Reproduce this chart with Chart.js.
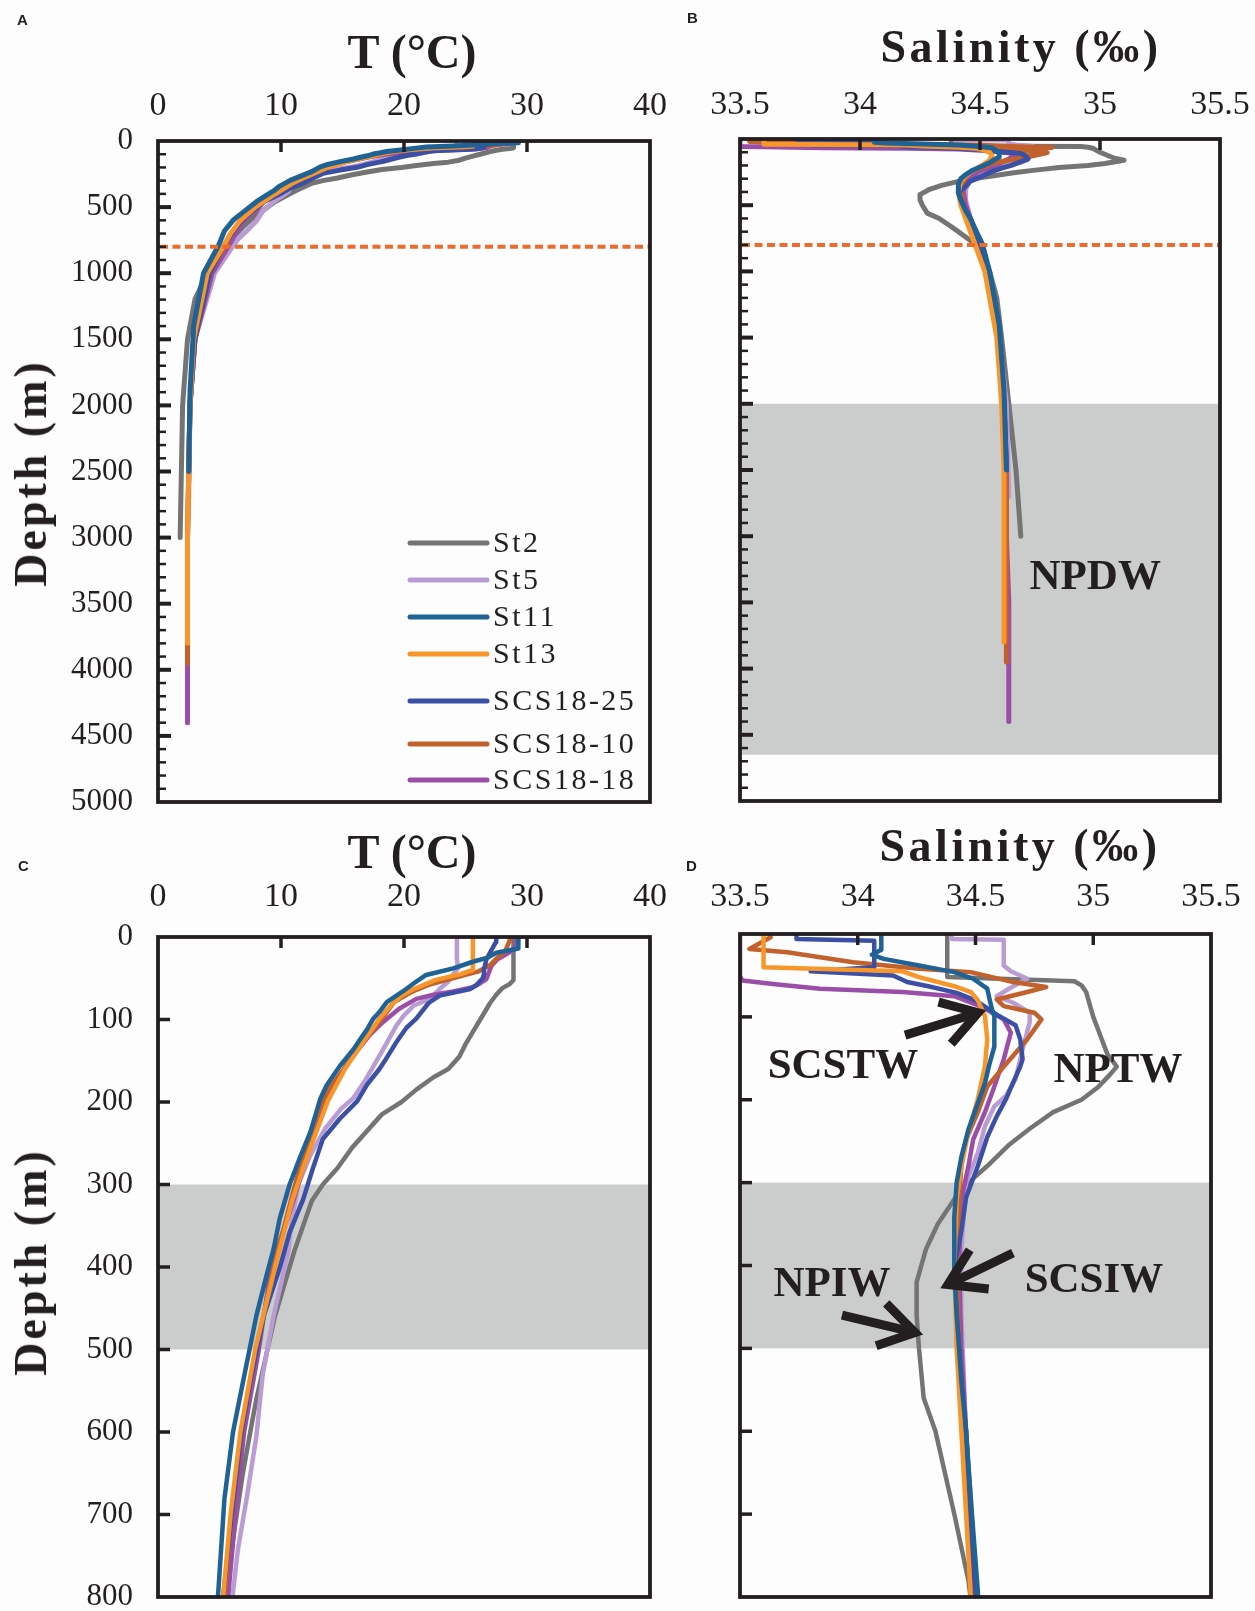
<!DOCTYPE html>
<html>
<head>
<meta charset="utf-8">
<title>Temperature and salinity profiles</title>
<script src="https://cdn.jsdelivr.net/npm/chart.js@4.4.1/dist/chart.umd.min.js"></script>
<style>
  html, body { margin:0; padding:0; background:#fdfdfd; overflow:hidden; }
  #fig { position:relative; width:1255px; height:1611px; overflow:hidden; background:#fdfdfd; color:#231f20; }
  .pane { position:absolute; }
  .pane canvas { display:block; }
  .title { position:absolute; font-family:"Liberation Serif","Times New Roman",serif; font-weight:bold; white-space:nowrap; line-height:1; transform:translate(-50%,-50%); }
  .ttl-t { font-size:48px; }
  .ttl-s { font-size:46px; letter-spacing:3.5px; }
  .ttl-d { font-size:46px; letter-spacing:3px; transform:translate(-50%,-50%) rotate(-90deg); }
  .letter { position:absolute; font-family:"Liberation Sans",Arial,sans-serif; font-weight:bold; font-size:15px; line-height:1; }
</style>
</head>
<body>
<div id="fig">
  <div class="pane" style="left:0;top:0;width:690px;height:860px"><canvas id="cA" width="690" height="860"></canvas></div>
  <div class="pane" style="left:690px;top:0;width:600px;height:860px"><canvas id="cB" width="600" height="860"></canvas></div>
  <div class="pane" style="left:0;top:820px;width:690px;height:840px"><canvas id="cC" width="690" height="840"></canvas></div>
  <div class="pane" style="left:690px;top:820px;width:600px;height:840px"><canvas id="cD" width="600" height="840"></canvas></div>

  <div class="letter" style="left:17px;top:12px">A</div>
  <div class="letter" style="left:687px;top:10px">B</div>
  <div class="letter" style="left:18px;top:858px">C</div>
  <div class="letter" style="left:686px;top:858px">D</div>

  <div class="title ttl-t" style="left:412px;top:52px">T (°C)</div>
  <div class="title ttl-s" style="left:1021px;top:47px">Salinity (‰)</div>
  <div class="title ttl-t" style="left:412px;top:852px">T (°C)</div>
  <div class="title ttl-s" style="left:1020px;top:846px">Salinity (‰)</div>
  <div class="title ttl-d" style="left:31px;top:473px">Depth (m)</div>
  <div class="title ttl-d" style="left:31px;top:1262px">Depth (m)</div>
</div>

<script>
// ---------------- data ----------------
const stationNames = ['St2', 'St5', 'St11', 'St13', 'SCS18-25', 'SCS18-10', 'SCS18-18'];

const depthSt2 = [0, 5, 52, 57, 62, 70, 80, 100, 115, 130, 145, 160, 170, 185, 200, 215, 235, 255, 280, 300, 320, 350, 380, 420, 460, 500, 560, 600, 650, 700, 780, 850, 1000, 1200, 1500, 2000, 2500, 3000];
const tempSt2  = [29.0, 28.9, 28.9, 28.6, 28.0, 27.5, 27.0, 26.2, 25.6, 25.0, 24.5, 23.6, 22.4, 21.0, 19.8, 18.2, 17.0, 15.8, 14.6, 13.4, 12.5, 11.8, 11.1, 10.3, 9.5, 8.9, 8.0, 7.5, 6.9, 6.4, 5.6, 5.0, 4.0, 3.0, 2.4, 2.0, 1.9, 1.8];
const salSt2   = [34.38, 34.38, 34.38, 34.92, 34.95, 34.97, 34.98, 35.00, 35.02, 35.04, 35.06, 35.10, 35.07, 35.02, 34.95, 34.83, 34.73, 34.64, 34.55, 34.47, 34.41, 34.34, 34.29, 34.25, 34.25, 34.26, 34.28, 34.33, 34.37, 34.41, 34.47, 34.50, 34.54, 34.57, 34.59, 34.62, 34.65, 34.67];

const depthSt5 = [0, 6, 7, 26, 38, 45, 54, 63, 75, 83, 95, 107, 139, 175, 195, 208, 232, 264, 300, 341, 381, 459, 532, 605, 681, 742, 794, 1000, 1500, 2000, 2700];
const tempSt5  = [24.3, 24.3, 24.3, 24.3, 24.4, 24.0, 23.6, 22.9, 22.1, 20.8, 20.0, 19.4, 18.2, 16.8, 15.9, 14.9, 13.6, 12.4, 11.4, 10.9, 10.6, 9.4, 8.5, 8.0, 7.2, 6.5, 6.1, 4.6, 3.0, 2.6, 2.5];
const salSt5   = [34.40, 34.40, 34.62, 34.62, 34.62, 34.65, 34.72, 34.66, 34.59, 34.66, 34.73, 34.73, 34.70, 34.67, 34.63, 34.58, 34.54, 34.51, 34.46, 34.45, 34.44, 34.44, 34.45, 34.46, 34.48, 34.49, 34.50, 34.53, 34.58, 34.61, 34.62];

const depthSt11 = [0, 14, 19, 25, 30, 38, 46, 54, 66, 79, 91, 99, 112, 127, 136, 156, 180, 196, 236, 269, 300, 341, 378, 406, 459, 540, 600, 681, 794, 1000, 1400, 1900, 2500];
const tempSt11  = [29.3, 29.3, 27.5, 26.8, 25.6, 24.0, 21.8, 21.0, 19.9, 18.6, 18.0, 17.5, 17.0, 16.3, 15.9, 14.8, 13.7, 13.2, 12.4, 11.5, 10.7, 9.9, 9.4, 8.9, 8.0, 6.9, 6.1, 5.4, 4.9, 3.7, 2.9, 2.6, 2.5];
const salSt11   = [34.10, 34.10, 34.10, 34.06, 34.11, 34.26, 34.41, 34.49, 34.55, 34.56, 34.57, 34.58, 34.58, 34.58, 34.58, 34.56, 34.54, 34.52, 34.47, 34.44, 34.42, 34.41, 34.41, 34.41, 34.42, 34.44, 34.46, 34.48, 34.51, 34.54, 34.58, 34.60, 34.61];

const depthSt13 = [0, 4, 40, 45, 52, 63, 70, 80, 99, 127, 160, 199, 239, 280, 320, 401, 500, 600, 700, 800, 1000, 1500, 2000, 2500, 3000, 3800];
const tempSt13  = [25.6, 25.6, 25.6, 24.6, 22.6, 20.8, 19.9, 19.1, 18.0, 16.7, 15.2, 13.8, 12.8, 11.8, 10.9, 9.5, 7.9, 6.7, 5.9, 5.3, 4.0, 2.9, 2.6, 2.5, 2.4, 2.4];
const salSt13   = [33.60, 33.60, 33.60, 34.19, 34.26, 34.41, 34.48, 34.51, 34.54, 34.55, 34.54, 34.51, 34.47, 34.44, 34.42, 34.41, 34.42, 34.44, 34.46, 34.48, 34.52, 34.57, 34.59, 34.60, 34.60, 34.60];

const depthSCS25 = [0, 6, 8, 27, 40, 45, 50, 58, 63, 71, 80, 99, 110, 127, 151, 160, 179, 199, 220, 245, 280, 318, 358, 401, 459, 540, 600, 700, 800, 1000, 1500, 2000, 2500];
const tempSCS25  = [27.5, 27.5, 27.4, 26.7, 26.5, 26.5, 26.4, 25.9, 25.4, 22.9, 22.0, 21.0, 20.2, 19.4, 18.4, 18.0, 17.0, 16.2, 14.8, 13.4, 12.6, 11.8, 10.7, 9.9, 8.6, 7.5, 6.8, 6.0, 5.3, 4.2, 3.0, 2.6, 2.5];
const salSCS25   = [33.74, 33.74, 34.07, 34.07, 34.07, 33.80, 34.15, 34.21, 34.30, 34.42, 34.50, 34.60, 34.67, 34.69, 34.70, 34.69, 34.66, 34.63, 34.59, 34.55, 34.51, 34.46, 34.44, 34.41, 34.42, 34.44, 34.46, 34.48, 34.50, 34.53, 34.58, 34.60, 34.61];

const depthSCS10 = [0, 4, 18, 22, 34, 42, 46, 58, 64, 70, 79, 87, 95, 103, 127, 147, 160, 184, 215, 248, 280, 320, 401, 500, 600, 700, 800, 1000, 1500, 2000, 2500, 3000, 3950];
const tempSCS10  = [28.6, 28.6, 28.2, 27.8, 27.0, 26.0, 25.0, 22.0, 21.0, 20.2, 19.2, 18.8, 18.4, 18.0, 16.7, 15.7, 15.1, 13.9, 13.0, 12.2, 11.5, 10.8, 9.4, 8.0, 6.8, 6.0, 5.4, 4.2, 3.0, 2.6, 2.5, 2.4, 2.4];
const salSCS10   = [33.63, 33.63, 33.54, 33.70, 33.98, 34.26, 34.48, 34.66, 34.80, 34.72, 34.59, 34.62, 34.75, 34.78, 34.72, 34.66, 34.62, 34.55, 34.51, 34.46, 34.44, 34.43, 34.42, 34.43, 34.45, 34.47, 34.49, 34.53, 34.58, 34.60, 34.61, 34.61, 34.61];

const depthSCS18 = [0, 15, 27, 35, 51, 56, 61, 66, 70, 75, 87, 103, 119, 151, 184, 215, 248, 280, 320, 400, 500, 600, 700, 800, 1000, 1500, 2000, 2500, 3000, 3500, 4000, 4400];
const tempSCS18  = [29.2, 29.0, 27.6, 27.1, 26.7, 26.2, 25.6, 24.0, 22.4, 21.0, 19.6, 18.3, 17.2, 15.5, 14.2, 13.3, 12.4, 11.8, 11.0, 9.2, 8.2, 7.0, 6.3, 5.7, 4.4, 3.0, 2.6, 2.5, 2.4, 2.4, 2.4, 2.4];
const salSCS18   = [33.50, 33.50, 33.50, 33.50, 33.50, 33.51, 33.66, 33.84, 34.19, 34.41, 34.52, 34.62, 34.65, 34.62, 34.58, 34.54, 34.49, 34.47, 34.44, 34.43, 34.44, 34.46, 34.48, 34.50, 34.53, 34.58, 34.60, 34.61, 34.61, 34.62, 34.62, 34.62];

const depths = [depthSt2, depthSt5, depthSt11, depthSt13, depthSCS25, depthSCS10, depthSCS18];
const temps  = [tempSt2, tempSt5, tempSt11, tempSt13, tempSCS25, tempSCS10, tempSCS18];
const sals   = [salSt2, salSt5, salSt11, salSt13, salSCS25, salSCS10, salSCS18];

// water-mass labels and arrows, in data units (salinity, depth)
const waterMassB = [{text: 'NPDW', sal: 34.98, depth: 3316}];
const waterMassD = [
  {text: 'SCSTW', sal: 33.937, depth: 160},
  {text: 'NPTW',  sal: 35.105, depth: 165},
  {text: 'NPIW',  sal: 33.891, depth: 423},
  {text: 'SCSIW', sal: 35.003, depth: 419}
];
const arrowsD = [
  {from: [34.201, 122], to: [34.511, 95]},
  {from: [34.659, 385], to: [34.383, 423]},
  {from: [33.933, 460], to: [34.243, 481]}
];

// ---------------- styling ----------------
const stationColors = ['#747474', '#b99cd4', '#1f6296', '#f7962a', '#3b50a5', '#c2612b', '#9b4ea7'];
const stackOrder = [6, 5, 0, 1, 2, 3, 4];
const FONT = '"Liberation Serif", "Times New Roman", serif';
const INK = '#231f20';

function profile(values, ds) { return ds.map((d, i) => ({x: values[i], y: d})); }

function drawArrow(ctx, x0, y0, x1, y1) {
  const ang = Math.atan2(y1 - y0, x1 - x0);
  const len = 41, spread = 0.56;
  ctx.lineWidth = 9;
  ctx.lineCap = 'butt';
  ctx.lineJoin = 'miter';
  ctx.beginPath();
  ctx.moveTo(x0, y0);
  ctx.lineTo(x1 - 6 * Math.cos(ang), y1 - 6 * Math.sin(ang));
  ctx.stroke();
  ctx.beginPath();
  ctx.moveTo(x1 - len * Math.cos(ang - spread), y1 - len * Math.sin(ang - spread));
  ctx.lineTo(x1, y1);
  ctx.lineTo(x1 - len * Math.cos(ang + spread), y1 - len * Math.sin(ang + spread));
  ctx.stroke();
}

const decorPlugin = {
  id: 'decor',
  beforeDatasetsDraw(chart, args, o) {
    const {ctx, chartArea: a, scales: {y}} = chart;
    ctx.save();
    ctx.fillStyle = '#cbcccc';
    (o.bands || []).forEach(([d1, d2]) => {
      const p1 = y.getPixelForValue(d1), p2 = y.getPixelForValue(d2);
      ctx.fillRect(a.left, p1, a.right - a.left, p2 - p1);
    });
    ctx.restore();
  },
  afterDatasetsDraw(chart, args, o) {
    const {ctx, chartArea: a, scales: {x, y}} = chart;
    ctx.save();
    if (o.dashedDepth != null) {
      const py = y.getPixelForValue(o.dashedDepth);
      ctx.strokeStyle = '#ef6b2b';
      ctx.lineWidth = 4;
      ctx.setLineDash([8, 4.5]);
      ctx.beginPath(); ctx.moveTo(a.left + 2, py); ctx.lineTo(a.right, py); ctx.stroke();
      ctx.setLineDash([]);
    }
    ctx.strokeStyle = INK;
    ctx.lineCap = 'butt';
    x.ticks.forEach(t => {
      if (t.value <= x.min + 1e-9 || t.value >= x.max - 1e-9) return;
      const px = x.getPixelForValue(t.value);
      ctx.lineWidth = 3.5;
      ctx.beginPath(); ctx.moveTo(px, a.top); ctx.lineTo(px, a.top + 11); ctx.stroke();
    });
    for (let v = o.minorStep; v < y.max; v += o.minorStep) {
      const py = y.getPixelForValue(v);
      const major = o.majorStep && v % o.majorStep === 0;
      ctx.lineWidth = major ? 4 : o.minorWidth;
      ctx.beginPath(); ctx.moveTo(a.left, py); ctx.lineTo(a.left + (major ? 13 : o.minorLen), py); ctx.stroke();
    }
    ctx.lineWidth = 3.8;
    ctx.strokeRect(a.left, a.top, a.right - a.left, a.bottom - a.top);

    ctx.fillStyle = INK;
    ctx.font = 'bold 43px ' + FONT;
    ctx.textAlign = 'center';
    ctx.textBaseline = 'middle';
    (o.labels || []).forEach(l => {
      ctx.fillText(l.text, x.getPixelForValue(l.sal), y.getPixelForValue(l.depth));
    });
    (o.arrows || []).forEach(ar => {
      drawArrow(ctx, x.getPixelForValue(ar.from[0]), y.getPixelForValue(ar.from[1]),
                     x.getPixelForValue(ar.to[0]), y.getPixelForValue(ar.to[1]));
    });

    if (o.legend) {
      const L = o.legend;
      ctx.font = '30px ' + FONT;
      ctx.textAlign = 'left';
      ctx.letterSpacing = '2.5px';
      chart.data.datasets.forEach((ds, i) => {
        const ry = L.rows[i];
        ctx.strokeStyle = ds.borderColor;
        ctx.lineWidth = 5;
        ctx.lineCap = 'round';
        ctx.beginPath(); ctx.moveTo(L.x0, ry); ctx.lineTo(L.x1, ry); ctx.stroke();
        ctx.fillStyle = INK;
        ctx.fillText(ds.label, L.tx, ry + 1);
      });
    }
    ctx.restore();
  }
};

function buildDatasets(values, lw) {
  return stationNames.map((name, i) => ({
    label: name,
    data: profile(values[i], depths[i]),
    borderColor: stationColors[i],
    backgroundColor: stationColors[i],
    borderWidth: lw,
    order: stackOrder[i],
    showLine: true,
    pointRadius: 0,
    pointHoverRadius: 0,
    fill: false,
    tension: 0,
    borderJoinStyle: 'round',
    borderCapStyle: 'round'
  }));
}

function panel(id, cfg) {
  return new Chart(document.getElementById(id), {
    type: 'scatter',
    data: {datasets: buildDatasets(cfg.values, cfg.lw)},
    plugins: [decorPlugin],
    options: {
      responsive: false,
      animation: false,
      devicePixelRatio: 1,
      events: [],
      layout: {padding: {left: 0, top: 0, right: cfg.padRight, bottom: cfg.padBottom}},
      plugins: {legend: {display: false}, tooltip: {enabled: false}, decor: cfg.decor},
      scales: {
        x: {
          type: 'linear', position: 'top', min: cfg.xMin, max: cfg.xMax,
          ticks: {stepSize: cfg.xStep, autoSkip: false, maxRotation: 0, padding: cfg.xPad, color: INK,
                  font: {family: FONT, size: 34}, callback: v => String(Math.round(v * 10) / 10)},
          grid: {display: false, drawTicks: false},
          border: {display: false},
          afterFit: s => { s.height = cfg.top; }
        },
        y: {
          type: 'linear', reverse: true, min: 0, max: cfg.yMax,
          ticks: {display: cfg.yLabels, stepSize: cfg.yStep, autoSkip: false, padding: 25, color: INK,
                  font: {family: FONT, size: 31, lineHeight: 0.8}, callback: v => String(v)},
          grid: {display: false, drawTicks: false},
          border: {display: false},
          afterFit: s => { s.width = cfg.left; }
        }
      }
    }
  });
}

// A: temperature, full depth   (chart area 158..650 x 141..802)
panel('cA', {
  values: temps, lw: 5, xMin: 0, xMax: 40, xStep: 10, yMax: 5000, yStep: 500, yLabels: true,
  top: 141, left: 158, padRight: 40, padBottom: 58, xPad: 15,
  decor: {dashedDepth: 800, minorStep: 100, majorStep: 500, minorLen: 8, minorWidth: 2.5,
          legend: {x0: 410, x1: 487, tx: 493, rows: [543, 580, 617, 654, 701, 744, 780]}}
});
// B: salinity, full depth   (chart area 740..1220 x 139..801)
panel('cB', {
  values: sals, lw: 5, xMin: 33.5, xMax: 35.5, xStep: 0.5, yMax: 5000, yStep: 500, yLabels: false,
  top: 139, left: 50, padRight: 70, padBottom: 59, xPad: 14,
  decor: {bands: [[2000, 4650]], dashedDepth: 800, minorStep: 100, majorStep: 500, minorLen: 8, minorWidth: 2.5,
          labels: waterMassB}
});
// C: temperature, upper 800 m   (chart area 158..650 x 937..1597)
panel('cC', {
  values: temps, lw: 4.5, xMin: 0, xMax: 40, xStep: 10, yMax: 800, yStep: 100, yLabels: true,
  top: 117, left: 158, padRight: 40, padBottom: 63, xPad: 20,
  decor: {bands: [[300, 500]], minorStep: 100, majorStep: 0, minorLen: 12, minorWidth: 3.5}
});
// D: salinity, upper 800 m   (chart area 740..1211 x 934..1597)
panel('cD', {
  values: sals, lw: 4.5, xMin: 33.5, xMax: 35.5, xStep: 0.5, yMax: 800, yStep: 100, yLabels: false,
  top: 114, left: 50, padRight: 79, padBottom: 63, xPad: 17,
  decor: {bands: [[300, 500]], minorStep: 100, majorStep: 0, minorLen: 12, minorWidth: 3.5,
          labels: waterMassD, arrows: arrowsD}
});
</script>
</body>
</html>
